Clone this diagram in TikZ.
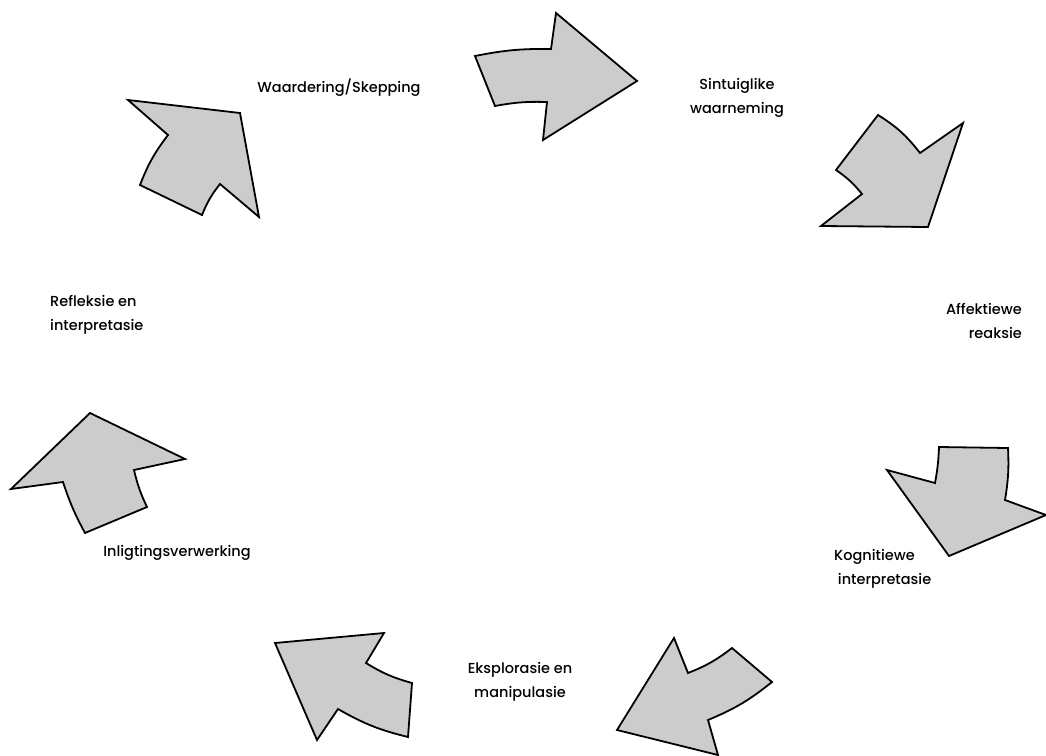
\documentclass[tikz,border=0pt]{standalone}
\usepackage{fontspec}
\setmainfont{Poppins Medium}
\begin{document}
\begin{tikzpicture}[x=1pt,y=-1pt,
  blockarrow/.style={draw=black,line width=1.8pt,line join=miter,fill=black!20},
  label/.style={font=\fontsize{14.5}{24}\selectfont,align=center,inner sep=0pt}]
\useasboundingbox (0,0) rectangle (1046,755);

% cycle of block arrows, clockwise
\path[blockarrow] (475,56) to[bend left=6] (551,49) -- (556,13) -- (637,81)
  -- (543,140) -- (547,102) to[bend right=6] (495,106) -- cycle;
\path[blockarrow] (963,123) -- (920,153) to[bend right=10] (878,115) -- (836,170)
  to[bend left=8] (862,194) -- (821,226) -- (928,227) -- cycle;
\path[blockarrow] (939,447) -- (1008,448) to[bend left=6] (1005,500) -- (1046,515)
  -- (949,556) -- (887,470) -- (935,483) to[bend right=4] cycle;
\path[blockarrow] (617,730) -- (674,638) -- (688,673) to[bend right=8] (732,648)
  -- (772,682) to[bend left=8] (708,720) -- (718,755) -- cycle;
\path[blockarrow] (275,643) -- (384,633) -- (366,663) to[bend right=8] (412,683)
  -- (408,737) to[bend left=8] (338,709) -- (317,740) -- cycle;
\path[blockarrow] (90,413) -- (185,459) -- (134,470) to[bend right=6] (147,507)
  -- (85,533) to[bend left=5] (63,482) -- (11,489) -- cycle;
\path[blockarrow] (240,113) -- (259,217) -- (220,184) to[bend right=8] (202,215)
  -- (140,185) to[bend left=8] (168,135) -- (128,100) -- cycle;

% stage labels
\node[label] (waardering) at (339,88) {Waardering/Skepping};
\node[label] (sintuiglik) at (737,98) {Sintuiglike\\waarneming};
\node[label,align=right,anchor=east] (affektief) at (1022,321) {Affektiewe\\reaksie};
\node[label,align=left,anchor=west] (kognitief) at (834,569) {Kognitiewe\\\ interpretasie};
\node[label] (eksplorasie) at (520,682) {Eksplorasie en\\manipulasie};
\node[label] (inligting) at (177,553) {Inligtingsverwerking};
\node[label,align=left,anchor=west] (refleksie) at (50,315) {Refleksie en\\interpretasie};
\end{tikzpicture}
\end{document}
